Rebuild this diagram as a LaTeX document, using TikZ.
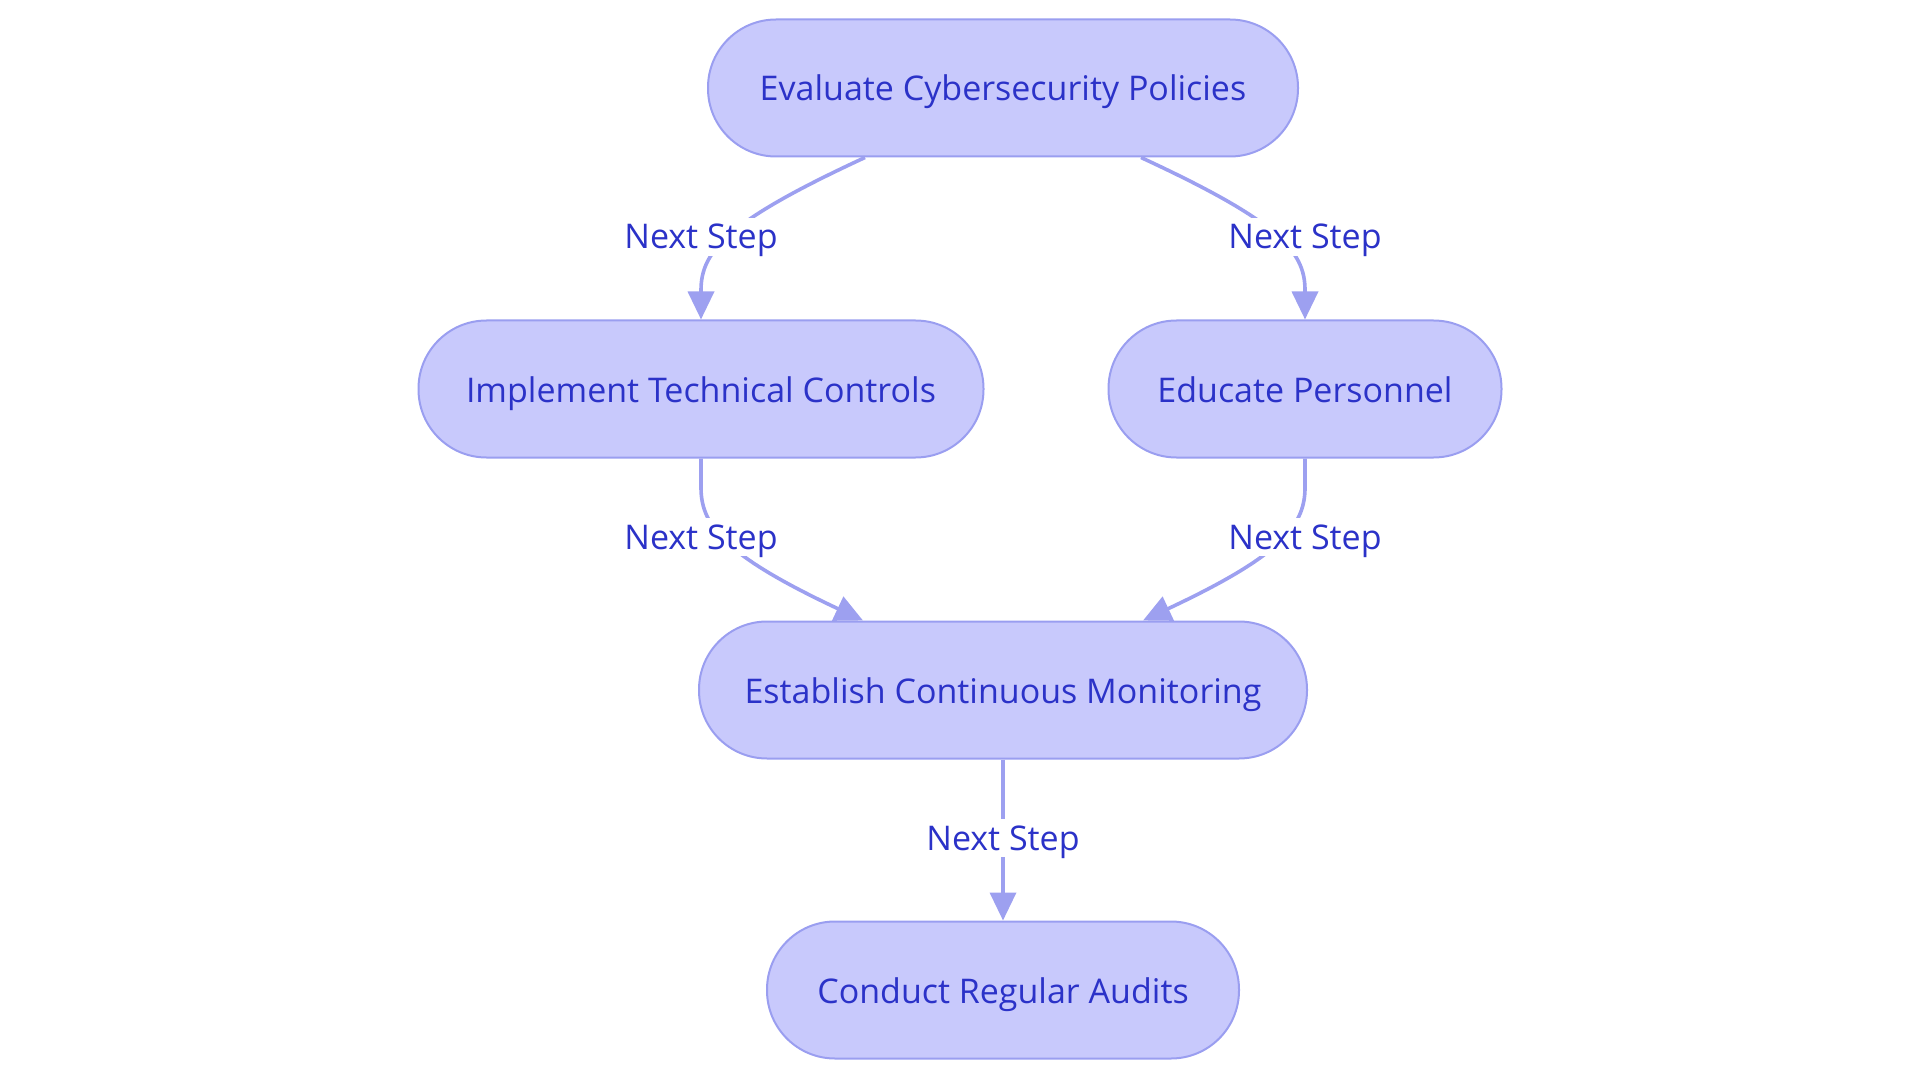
\documentclass[tikz,border=0pt]{standalone}
\usepackage{fontspec}
\setmainfont{Open Sans}
\usetikzlibrary{arrows.meta,calc}
\definecolor{nfill}{HTML}{C8C9FC}
\definecolor{nborder}{HTML}{9A9EF0}
\definecolor{ntext}{HTML}{2B32C8}
\definecolor{eline}{HTML}{9DA0F0}
\begin{document}
\begin{tikzpicture}[x=1pt,y=1pt,
  box/.style={draw=nborder,fill=nfill,line width=2pt,rounded corners=68pt,
    minimum height=137pt,inner sep=0pt,text=ntext,text height=28pt,text depth=2pt,
    font=\fontsize{34}{40}\selectfont},
  lbl/.style={fill=white,text=ntext,inner sep=3pt,text height=28pt,text depth=4pt,
    font=\fontsize{34}{40}\selectfont},
  edge/.style={draw=eline,line width=3.6pt,-{Triangle[length=28pt,width=26pt]}}]
\useasboundingbox (0,0) rectangle (1920,-1083);
\node[box,minimum width=590pt] (eval) at (1003,-88) {Evaluate Cybersecurity Policies};
\node[box,minimum width=565pt] (impl) at (701,-389) {Implement Technical Controls};
\node[box,minimum width=393pt] (edu) at (1305,-389) {Educate Personnel};
\node[box,minimum width=608pt] (est) at (1003,-690) {Establish Continuous Monitoring};
\node[box,minimum width=472pt] (aud) at (1003,-990) {Conduct Regular Audits};
% edges
\draw[edge] ($(eval.south)+(-138,0)$) .. controls (730,-220) and (701,-250) .. (701,-290) -- (impl.north);
\draw[edge] ($(eval.south)+(138,0)$) .. controls (1276,-220) and (1305,-250) .. (1305,-290) -- (edu.north);
\draw[edge] (impl.south) -- (701,-488) .. controls (701,-528) and (730,-558) .. ($(est.north)+(-140,0)$);
\draw[edge] (edu.south) -- (1305,-488) .. controls (1305,-528) and (1276,-558) .. ($(est.north)+(140,0)$);
\draw[edge] (est.south) -- (aud.north);
% labels
\node[lbl] (l1) at (701,-237) {Next Step};
\node[lbl] (l2) at (1305,-237) {Next Step};
\node[lbl] (l3) at (701,-537) {Next Step};
\node[lbl] (l4) at (1305,-537) {Next Step};
\node[lbl] (l5) at (1003,-838) {Next Step};
\end{tikzpicture}
\end{document}
